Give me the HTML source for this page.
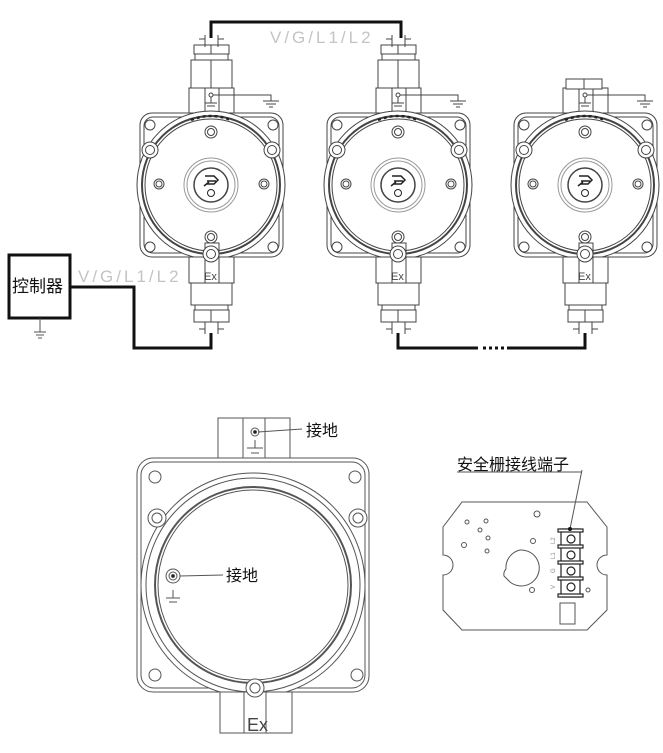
<!DOCTYPE html><html><head><meta charset="utf-8"><style>body{margin:0;background:#fff}svg{display:block}text{font-family:"Liberation Sans","Noto Sans CJK SC",sans-serif}</style></head><body>
<svg width="663" height="753" viewBox="0 0 663 753" xmlns="http://www.w3.org/2000/svg">
<defs>
<g id="dev" fill="none" stroke="#444" stroke-width="1">
<rect x="-22" y="88" width="45" height="30" fill="#fff"/>
<rect x="-6" y="88" width="14" height="30"/>
<rect x="-71" y="113" width="143" height="144" rx="12" fill="#fff"/>
<rect x="-67" y="117" width="135" height="136" rx="9"/>
<circle cx="0" cy="185" r="74" fill="#fff"/>
<circle cx="0" cy="185" r="69" stroke-width="2"/>
<circle cx="0" cy="185" r="66"/>
<circle cx="-61" cy="125" r="5"/><circle cx="62" cy="125" r="5"/>
<circle cx="-61" cy="247" r="5"/><circle cx="62" cy="247" r="5"/>
<circle cx="-61" cy="150" r="8" fill="#fff"/><circle cx="-61" cy="150" r="4.5"/>
<circle cx="61" cy="150" r="8" fill="#fff"/><circle cx="61" cy="150" r="4.5"/>
<circle cx="0" cy="132" r="6"/><circle cx="0" cy="132" r="3.5"/>
<circle cx="0" cy="237" r="6"/><circle cx="0" cy="237" r="3.5"/>
<circle cx="-52" cy="184" r="5"/><circle cx="-52" cy="184" r="3"/>
<circle cx="53" cy="184" r="5"/><circle cx="53" cy="184" r="3"/>
<rect x="-22" y="257" width="45" height="26" fill="#fff"/>
<rect x="-6" y="243" width="14" height="40"/>
<circle cx="0" cy="254" r="8" fill="#fff"/><circle cx="0" cy="254" r="4.5"/>
<circle cx="0" cy="185" r="27" stroke="#999"/>
<circle cx="0" cy="185" r="24" stroke="#999"/>
<circle cx="0" cy="185" r="17" stroke-width="1.5"/>
<path d="M-6 176h9l4 4l-4 4h-8M-4 181h9M-7 186l5-4" stroke="#222" stroke-width="1.5"/>
<circle cx="0" cy="193" r="3.5" stroke="#222"/>
<rect x="-2" y="93" width="4" height="4" rx="2"/>
<path d="M0 97v6M-6 103h12M-4 106h8"/>
<path d="M-20 120q20-8 40 0" stroke="#222" stroke-width="2.5" stroke-dasharray="3 3"/>
<path d="M2 95h58v6M52 101h16M55 104h10M58 107h4"/>
<path d="M-20 283h41v22h-41zM-20 305h41M-16 305h33v5h-33zM-17 310h35v12h-35zM0 310v12M-6 322v12M7 322v12M-6 329h-6M7 329h6"/>
</g>
<g id="gl" fill="none" stroke="#444">
<path d="M-6 35v12M7 35v12M-6 39h-6M7 39h6M-17 45h35v9h-35zM0 45v9M-16 54h33v6h-33zM-20 60h41v28h-41zM0 60v28"/>
</g>
</defs>
<use href="#dev" x="211"/><use href="#gl" x="211"/>
<use href="#dev" x="398"/><use href="#gl" x="398"/>
<use href="#dev" x="585"/>
<rect x="566" y="79" width="36" height="10" fill="#fff" stroke="#444"/><path d="M584 79v10" stroke="#444"/>
<g font-size="11" fill="#444"><text x="204" y="280">Ex</text><text x="391" y="280">Ex</text><text x="578" y="280">Ex</text></g>
<g fill="none" stroke="#111" stroke-width="3">
<path d="M211 38V22H401V38"/>
<path d="M70 287H134V348H211V333"/>
<path d="M398 333V348H478M507 348H585V333"/>
<path d="M483 348h3M489 348h3M495 348h3M501 348h3"/>
</g>
<g font-size="17" fill="#c4c4c4"><text x="270" y="43" letter-spacing="3">V/G/L1/L2</text><text x="78" y="282" letter-spacing="3">V/G/L1/L2</text></g>
<rect x="9" y="255" width="61" height="63" fill="#fff" stroke="#111" stroke-width="3"/>
<text x="12" y="292" font-size="17" fill="#111">控制器</text>
<path d="M40 318v14M34 332h12M36 335h8M38 338h4" stroke="#555" fill="none"/>
<g fill="none" stroke="#555">
<rect x="218" y="418" width="72" height="42" fill="#fff"/><rect x="243" y="418" width="22" height="42"/>
<rect x="137" y="458" width="232" height="234" rx="16" fill="#fff"/>
<rect x="141" y="462" width="224" height="226" rx="13"/>
<circle cx="253" cy="585" r="112" fill="#fff"/>
<circle cx="253" cy="585" r="107"/>
<circle cx="253" cy="585" r="98" stroke-width="2"/>
<circle cx="253" cy="585" r="95"/>
<circle cx="155" cy="477" r="6"/><circle cx="355" cy="477" r="6"/>
<circle cx="155" cy="675" r="6"/><circle cx="357" cy="675" r="6"/>
<circle cx="157" cy="518" r="9" fill="#fff"/><circle cx="157" cy="518" r="5"/>
<circle cx="358" cy="518" r="9" fill="#fff"/><circle cx="358" cy="518" r="5"/>
<rect x="220" y="692" width="72" height="41" fill="#fff"/><rect x="244" y="692" width="22" height="41"/>
<circle cx="255" cy="688" r="9" fill="#fff"/><circle cx="255" cy="688" r="5"/>
<circle cx="255" cy="432" r="4"/><circle cx="255" cy="432" r="1.5" fill="#111"/>
<path d="M255 440v8M247 448h16M251 453h8M258 432l44-3"/>
<circle cx="173" cy="576" r="7"/><circle cx="173" cy="576" r="4"/><circle cx="173" cy="576" r="1.5" fill="#111"/>
<path d="M173 590v8M166 598h14M169 602h8M180 576l43-1"/>
</g>
<g font-size="16" fill="#111"><text x="306" y="436">接地</text><text x="226" y="581">接地</text></g>
<text x="247" y="731" font-size="18" fill="#444">Ex</text>
<g fill="none" stroke="#555">
<path d="M462 502H587L607 527V555A10 10 0 0 0 607 575V610L587 630H462L443 610V575A10 10 0 0 0 443 555V527Z"/>
<path d="M520 550a18 18 0 1 1 -10 32l-6-6 a8 8 0 0 1 2-7a18 18 0 0 1 14-19z"/>
<circle cx="537" cy="514" r="3"/><circle cx="467" cy="522" r="2"/><circle cx="486" cy="521" r="2"/>
<circle cx="480" cy="530" r="2"/><circle cx="488" cy="538" r="2"/><circle cx="464" cy="545" r="2.5"/>
<circle cx="487" cy="551" r="2"/><circle cx="533" cy="541" r="2.5"/><circle cx="532" cy="590" r="2.5"/><circle cx="588" cy="590" r="2"/>
<rect x="560" y="603" width="15" height="21"/>
<path d="M582 470l-12 59"/>
</g>
<g fill="#fff" stroke="#222" stroke-width="1.2">
<rect x="561" y="529" width="19" height="68"/>
<rect x="558" y="529" width="25" height="3"/><rect x="558" y="545" width="25" height="3"/>
<rect x="558" y="561" width="25" height="3"/><rect x="558" y="577" width="25" height="3"/><rect x="558" y="594" width="25" height="3"/>
<circle cx="571" cy="539" r="4"/><circle cx="571" cy="555" r="4"/><circle cx="571" cy="571" r="4"/><circle cx="571" cy="587" r="4"/>
</g>
<circle cx="570" cy="529" r="2" fill="#111"/>
<g font-size="6" fill="#888"><text transform="translate(555,544) rotate(-90)">L2</text><text transform="translate(555,559) rotate(-90)">L1</text><text transform="translate(555,573) rotate(-90)">G</text><text transform="translate(555,589) rotate(-90)">V</text></g>
<text x="457" y="470" font-size="16" fill="#111">安全栅接线端子</text>
<path d="M457 472h125" stroke="#555"/>
</svg>
</body></html>
